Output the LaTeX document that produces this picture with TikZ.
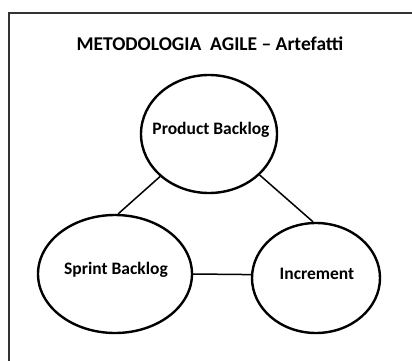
\documentclass[tikz,border=0pt]{standalone}
\usepackage{fontspec}
\setmainfont{Carlito}
\usetikzlibrary{shapes.geometric}
\tikzset{
  art/.style={draw=black, line width=2.4pt, ellipse, inner sep=0pt},
  lbl/.style={font=\bfseries\fontsize{17.5}{19}\selectfont},
  link/.style={draw=black, line width=1.5pt},
  frame/.style={draw=black!80, line width=2pt}
}
\begin{document}
\begin{tikzpicture}[x=1pt,y=-1pt]
\useasboundingbox (0,0) rectangle (412,361);
\draw[frame] (420,13) -- (9,13) -- (9,370);
\node[font=\bfseries\fontsize{19.5}{22}\selectfont] (title) at (210,44) {METODOLOGIA\ \ AGILE – Artefatti};
\node[art, minimum width=136pt, minimum height=118pt] (pb) at (209,134) {};
\node[art, minimum width=154pt, minimum height=118pt] (sb) at (115,274) {};
\node[art, minimum width=128pt, minimum height=110pt] (inc) at (316,278) {};
\node[lbl] (pbt) at (211,130) {Product Backlog};
\node[lbl] (sbt) at (116,270) {Sprint Backlog};
\node[lbl] (inct) at (317,274) {Increment};
\draw[link] (pb.221) -- (sb.87);
\draw[link] (pb.321) -- (inc.93);
\draw[link] (sb.east) -- (inc.177);
\end{tikzpicture}
\end{document}
